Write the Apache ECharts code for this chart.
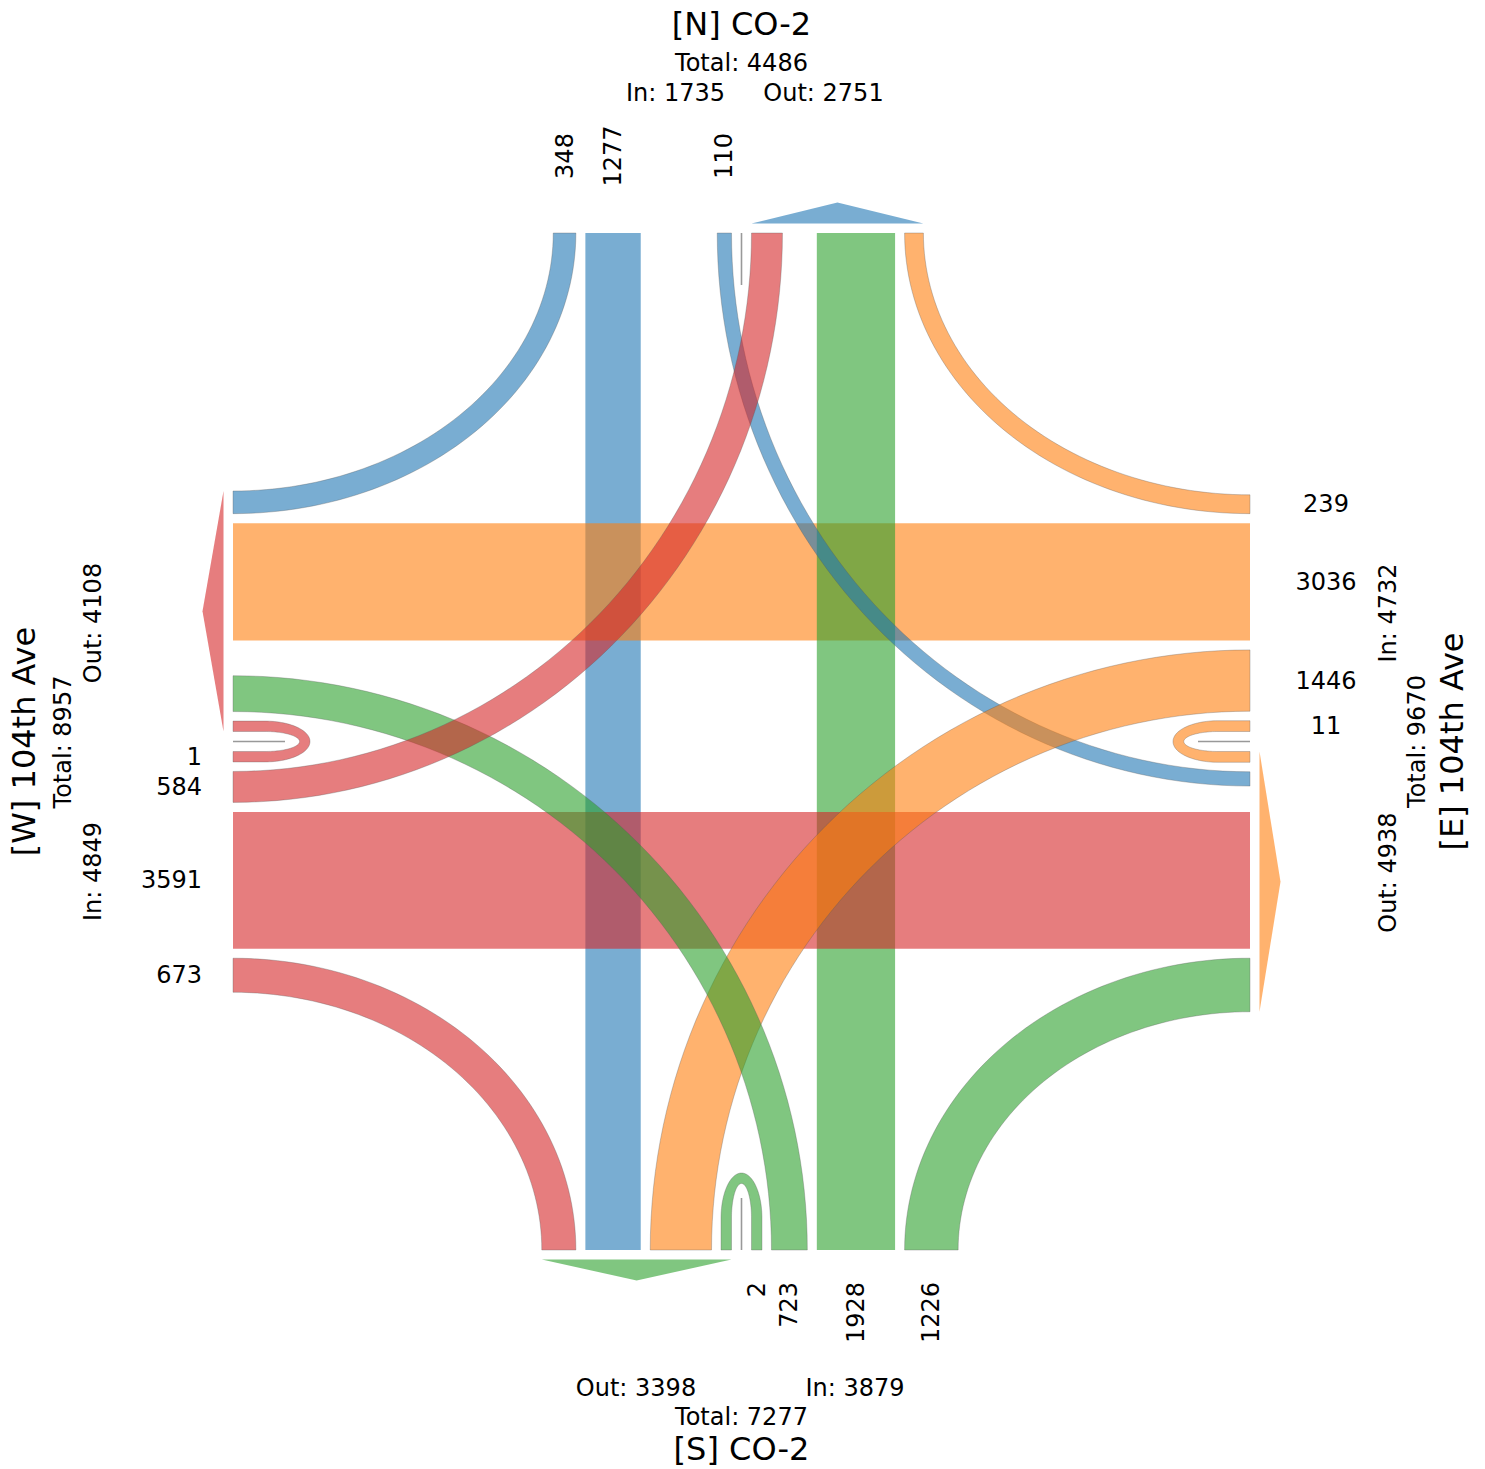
<!DOCTYPE html>
<html><head><meta charset="utf-8">
<script src="https://cdn.jsdelivr.net/npm/echarts@6/dist/echarts.min.js"></script>
<style>html,body{margin:0;padding:0;background:#fff}#chart{width:1485px;height:1469px}</style>
</head><body><div id="chart"></div>
<script>
// ---------------- data ----------------
const approaches = ['N', 'E', 'S', 'W'];
const approachTitles = ['[N] CO-2', '[E] 104th Ave', '[S] CO-2', '[W] 104th Ave'];
const movements = ['U-turn', 'Left', 'Through', 'Right'];
const northIn = [0, 110, 1277, 348];
const eastIn = [11, 1446, 3036, 239];
const southIn = [2, 723, 1928, 1226];
const westIn = [1, 584, 3591, 673];
const approachColors = ['rgba(31,119,180,0.6)', 'rgba(255,127,14,0.6)', 'rgba(44,160,44,0.6)', 'rgba(214,39,40,0.6)'];

// ---------------- layout (layout units = axis units) ----------------
const inbound = [northIn, eastIn, southIn, westIn];
const BOX = [233, 1250];
const MID = (BOX[0] + BOX[1]) / 2;
const SPAN = BOX[1] - BOX[0];
const laneW = v => 10.4 + 0.0352 * v;
const GAP = 9.5, MGAP = 10;

const sideDef = [
  {sign: -1, axis: 'y', edge: BOX[0], pt: (a, d) => [a, BOX[0] + d]},  // N
  {sign: -1, axis: 'x', edge: BOX[1], pt: (a, d) => [BOX[1] - d, a]},  // E
  {sign: 1, axis: 'y', edge: BOX[1], pt: (a, d) => [a, BOX[1] - d]},   // S
  {sign: 1, axis: 'x', edge: BOX[0], pt: (a, d) => [BOX[0] + d, a]}    // W
];
function outboundVals(i) {
  return [inbound[i][0], inbound[(i + 3) % 4][1], inbound[(i + 2) % 4][2], inbound[(i + 1) % 4][3]];
}
const sum = a => a.reduce((s, v) => s + v, 0);

const laneIn = [[], [], [], []], laneOut = [[], [], [], []];
function layoutHalf(inIdx, outIdx) {
  const lists = [inbound[inIdx], outboundVals(outIdx)];
  const targets = [laneIn[inIdx], laneOut[outIdx]];
  const pos = [MGAP, MGAP];
  for (let s = 0; s < 2; s++) {
    for (let k = 0; k < 2; k++) {
      const v = lists[s][k];
      if (v > 0) { const w = laneW(v); targets[s][k] = [pos[s], pos[s] + w]; pos[s] += w + GAP; }
      else targets[s][k] = null;
    }
  }
  const t0 = Math.max(pos[0], pos[1]);
  const wt = laneW(lists[0][2]);
  for (let s = 0; s < 2; s++) {
    targets[s][2] = [t0, t0 + wt];
    const r0 = t0 + wt + GAP;
    targets[s][3] = [r0, r0 + laneW(lists[s][3])];
  }
}
for (let i = 0; i < 4; i++) layoutHalf(i, (i + 2) % 4);

function corner(i, j) {
  const a = sideDef[i], b = sideDef[j];
  return [a.axis === 'x' ? a.edge : b.edge, a.axis === 'y' ? a.edge : b.edge];
}

const shapes = [];
const EDGE = 'rgba(90,90,90,0.45)';
// through movements
for (let i = 0; i < 4; i++) {
  const v = inbound[i][2];
  if (!v) continue;
  const sd = sideDef[i];
  const [o0, o1] = laneIn[i][2];
  const a0 = MID + sd.sign * o0, a1 = MID + sd.sign * o1;
  shapes.push({type: 'polygon', pts: [sd.pt(a0, 0), sd.pt(a1, 0), sd.pt(a1, SPAN), sd.pt(a0, SPAN)], fill: approachColors[i]});
}
// turning movements
const NSEG = 60;
for (let i = 0; i < 4; i++) {
  for (const k of [3, 1]) {
    const v = inbound[i][k];
    if (!v) continue;
    const j = k === 1 ? (i + 1) % 4 : (i + 3) % 4;
    const sa = sideDef[i], sb = sideDef[j];
    const [o0, o1] = laneIn[i][k];
    const [p0, p1] = laneOut[j][k];
    const C = corner(i, j);
    const A = [sa.pt(MID + sa.sign * o0, 0), sa.pt(MID + sa.sign * o1, 0)];
    const B = [sb.pt(MID - sb.sign * p0, 0), sb.pt(MID - sb.sign * p1, 0)];
    const dist = P => Math.abs(P[0] - C[0]) + Math.abs(P[1] - C[1]);
    A.sort((p, q) => dist(p) - dist(q));
    B.sort((p, q) => dist(p) - dist(q));
    const arc = (SA, SB) => {
      const out = [];
      for (let n = 0; n <= NSEG; n++) {
        const t = n / NSEG * Math.PI / 2, c = Math.cos(t), s = Math.sin(t);
        out.push([C[0] + (SA[0] - C[0]) * c + (SB[0] - C[0]) * s, C[1] + (SA[1] - C[1]) * c + (SB[1] - C[1]) * s]);
      }
      return out;
    };
    const pts = arc(A[0], B[0]).concat(arc(A[1], B[1]).reverse());
    shapes.push({type: 'polygon', pts, fill: approachColors[i], stroke: EDGE, lw: 0.7});
  }
  // U-turn loop
  const vu = inbound[i][0];
  if (vu > 0) {
    const sd = sideDef[i];
    const [o0, o1] = laneIn[i][0];
    const STR = 32, CAPO = 45, CAPI = CAPO - (o1 - o0);
    const loc = [];
    loc.push([o1, 0], [o1, STR]);
    for (let n = 1; n < NSEG; n++) { const th = n / NSEG * Math.PI; loc.push([o1 * Math.cos(th), STR + CAPO * Math.sin(th)]); }
    loc.push([-o1, STR], [-o1, 0], [-o0, 0], [-o0, STR]);
    for (let n = NSEG - 1; n > 0; n--) { const th = n / NSEG * Math.PI; loc.push([o0 * Math.cos(th), STR + CAPI * Math.sin(th)]); }
    loc.push([o0, STR], [o0, 0]);
    shapes.push({type: 'polygon', pts: loc.map(([u, d]) => sd.pt(MID + sd.sign * u, d)), fill: approachColors[i], stroke: EDGE, lw: 0.7});
  }
}
// median markers
for (let i = 0; i < 4; i++) {
  const sd = sideDef[i];
  shapes.push({type: 'line', p0: sd.pt(MID, 0), p1: sd.pt(MID, 52), stroke: '#999', lw: 1.6});
}
// outbound arrows
for (let i = 0; i < 4; i++) {
  const sd = sideDef[i];
  const outer = laneOut[i][3][1];
  const aIn = MID - sd.sign * MGAP, aOut = MID - sd.sign * outer;
  shapes.push({type: 'polygon', pts: [sd.pt(aIn, -9.5), sd.pt(aOut, -9.5), sd.pt((aIn + aOut) / 2, -30.5)], fill: approachColors[i]});
}
// lane value labels
const labelCfg = [
  {depth: -77, rot: Math.PI / 2, align: 'center'},
  {depth: -76, rot: 0, align: 'center'},
  {depth: -32, rot: Math.PI / 2, align: 'right'},
  {depth: -31, rot: 0, align: 'right'}
];
for (let i = 0; i < 4; i++) {
  const sd = sideDef[i], cfg = labelCfg[i];
  for (let k = 0; k < 4; k++) {
    const v = inbound[i][k];
    if (!v) continue;
    const [o0, o1] = laneIn[i][k];
    shapes.push({type: 'text', p: sd.pt(MID + sd.sign * (o0 + o1) / 2, cfg.depth), text: String(v), size: 24, rot: cfg.rot, align: cfg.align});
  }
}
// approach titles and totals
const totIn = inbound.map(sum), totOut = [0, 1, 2, 3].map(i => sum(outboundVals(i)));
const R = Math.PI / 2;
const titlePos = [
  {title: [MID, 23.5], total: [MID, 63], inp: [675.5, 93], out: [823.5, 93], rot: 0},
  {title: [1452, MID], total: [1417, MID], inp: [1388, 613], out: [1388, 872.6], rot: R},
  {title: [MID, 1449], total: [MID, 1416.5], inp: [855, 1387.5], out: [636, 1387.5], rot: 0},
  {title: [24, MID], total: [63, 742], inp: [93, 871.5], out: [93, 623], rot: R}
];
for (let i = 0; i < 4; i++) {
  const tp = titlePos[i];
  shapes.push({type: 'text', p: tp.title, text: approachTitles[i], size: 32, rot: tp.rot, align: 'center'});
  shapes.push({type: 'text', p: tp.total, text: 'Total: ' + (totIn[i] + totOut[i]), size: 24, rot: tp.rot, align: 'center'});
  shapes.push({type: 'text', p: tp.inp, text: 'In: ' + totIn[i], size: 24, rot: tp.rot, align: 'center'});
  shapes.push({type: 'text', p: tp.out, text: 'Out: ' + totOut[i], size: 24, rot: tp.rot, align: 'center'});
}

// ---------------- chart ----------------
const chart = echarts.init(document.getElementById('chart'), null, {renderer: 'svg', width: 1485, height: 1469});
chart.setOption({
  animation: false,
  backgroundColor: '#fff',
  grid: {left: 0, right: 0, top: 0, bottom: 0},
  xAxis: {type: 'value', min: 0, max: 1485, show: false},
  yAxis: {type: 'value', min: 0, max: 1469, inverse: true, show: false},
  series: [{
    type: 'custom',
    coordinateSystem: 'cartesian2d',
    silent: true,
    clip: false,
    data: shapes.map((s, i) => [0, 0, i]),
    renderItem(params, api) {
      const s = shapes[params.dataIndex];
      if (s.type === 'polygon') {
        return {type: 'polygon', shape: {points: s.pts.map(p => api.coord(p))},
          style: {fill: s.fill, stroke: s.stroke || null, lineWidth: s.lw || 0}};
      }
      if (s.type === 'line') {
        const a = api.coord(s.p0), b = api.coord(s.p1);
        return {type: 'line', shape: {x1: a[0], y1: a[1], x2: b[0], y2: b[1]}, style: {stroke: s.stroke, lineWidth: s.lw}};
      }
      const p = api.coord(s.p);
      return {type: 'text', x: p[0], y: p[1], rotation: s.rot || 0,
        style: {text: s.text, fill: '#000', fontSize: s.size, lineHeight: s.size, fontFamily: 'DejaVu Sans', align: s.align, verticalAlign: 'middle'}};
    }
  }]
});
</script></body></html>
